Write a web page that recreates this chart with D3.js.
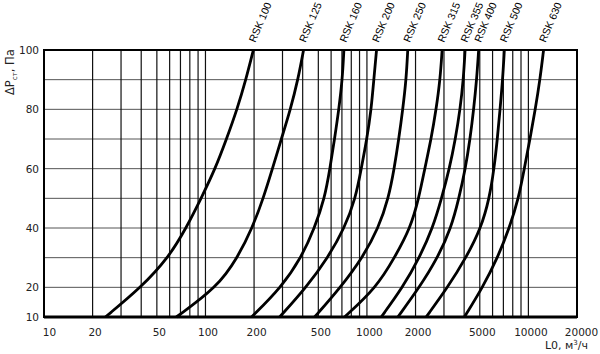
<!DOCTYPE html>
<html>
<head>
<meta charset="utf-8">
<script src="https://cdn.jsdelivr.net/npm/d3@7"></script>
<style>
  body { margin: 0; background: #fff; }
  svg { display: block; font-family: "DejaVu Sans", sans-serif; }
</style>
</head>
<body>
<div id="chart"></div>
<script>
// pressure levels (Pa) at which each curve was read
var pressures = [10, 20, 30, 40, 50, 60, 70, 80, 90, 100];

// air flow L0 (m3/h) for each model at the levels above
var rsk100 = [24, 40, 59, 76, 94, 115, 135, 157, 178, 198];
var rsk125 = [66, 118, 158, 195, 228, 260, 295, 336, 374, 405];
var rsk160 = [193, 295, 392, 474, 547, 590, 630, 670, 704, 720];
var rsk200 = [288, 421, 573, 727, 850, 922, 999, 1063, 1103, 1147];
var rsk250 = [474, 687, 939, 1179, 1360, 1475, 1575, 1667, 1750, 1790];
var rsk315 = [727, 1147, 1482, 1860, 2094, 2281, 2498, 2683, 2840, 2922];
var rsk355 = [1226, 1667, 2115, 2555, 2900, 3243, 3532, 3776, 3958, 4054];
var rsk400 = [1553, 2115, 2744, 3322, 3712, 4071, 4353, 4582, 4782, 4920];
var rsk500 = [2326, 3165, 4113, 5092, 5731, 6129, 6424, 6675, 6927, 7097];
var rsk630 = [4014, 5209, 6450, 7618, 8698, 9432, 10230, 11033, 11796, 12417];

var names = ["RSK 100", "RSK 125", "RSK 160", "RSK 200", "RSK 250",
             "RSK 315", "RSK 355", "RSK 400", "RSK 500", "RSK 630"];
var flows = [rsk100, rsk125, rsk160, rsk200, rsk250, rsk315, rsk355, rsk400, rsk500, rsk630];

var xTicks = [10, 20, 50, 100, 200, 500, 1000, 2000, 5000, 10000, 20000];
var yTicks = [10, 20, 40, 60, 80, 100];
var xGrid = [20, 30, 40, 50, 60, 70, 80, 90, 100,
             200, 300, 400, 500, 600, 700, 800, 900, 1000,
             2000, 3000, 4000, 5000, 6000, 7000, 8000, 9000, 10000];
var yGrid = [20, 30, 40, 50, 60, 70, 80, 90];

function draw() {
  var W = 600, H = 354;
  var margin = {top: 50, right: 23, bottom: 37, left: 44};

  var svg = d3.select("#chart").append("svg")
      .attr("width", W)
      .attr("height", H);

  var x = d3.scaleLog()
      .domain([10, 20000])
      .range([margin.left, W - margin.right]);

  var y = d3.scaleLinear()
      .domain([10, 100])
      .range([H - margin.bottom, margin.top]);

  // grid
  svg.append("g")
    .selectAll("line")
    .data(yGrid)
    .enter().append("line")
      .attr("x1", margin.left).attr("x2", W - margin.right)
      .attr("y1", d => y(d)).attr("y2", d => y(d))
      .attr("stroke", "#555")
      .attr("stroke-width", 1);

  svg.append("g")
    .selectAll("line")
    .data(xGrid)
    .enter().append("line")
      .attr("x1", d => x(d)).attr("x2", d => x(d))
      .attr("y1", margin.top).attr("y2", H - margin.bottom)
      .attr("stroke", "#111")
      .attr("stroke-width", 1.2);

  // curves
  var line = d3.line()
      .x(d => x(d[0]))
      .y(d => y(d[1]))
      .curve(d3.curveBasis);

  var series = flows.map(function(f, i) {
    var pts = f.map((v, j) => [v, pressures[j]]).reverse();
    return {name: names[i], pts: pts};
  });

  svg.append("g")
    .selectAll("path")
    .data(series)
    .enter().append("path")
      .attr("d", d => line(d.pts))
      .attr("fill", "none")
      .attr("stroke", "#000")
      .attr("stroke-width", 2.8)
      .attr("stroke-linejoin", "round");

  // curve labels at the top ends
  svg.append("g")
    .selectAll("text")
    .data(series)
    .enter().append("text")
      .attr("transform", d => "translate(" + (x(d.pts[0][0]) + 2) + "," + (margin.top - 7) + ") rotate(-67)")
      .attr("font-size", 10.5)
      .attr("font-family", "Liberation Sans")
      .attr("fill", "#000")
      .text(d => d.name);

  // frame
  svg.append("rect")
    .attr("x", margin.left).attr("y", margin.top)
    .attr("width", W - margin.left - margin.right)
    .attr("height", H - margin.top - margin.bottom)
    .attr("fill", "none")
    .attr("stroke", "#000")
    .attr("stroke-width", 2);

  svg.append("line")
    .attr("x1", margin.left).attr("x2", W - margin.right)
    .attr("y1", H - margin.bottom).attr("y2", H - margin.bottom)
    .attr("stroke", "#000")
    .attr("stroke-width", 3);

  // axes
  var xAxis = svg.append("g")
    .attr("transform", `translate(0,${H - margin.bottom})`)
    .call(d3.axisBottom(x).tickValues(xTicks).tickFormat(d3.format("d")).tickSize(0).tickPadding(12));
  xAxis.select(".domain").remove();
  xAxis.selectAll("text")
    .attr("font-size", 10.5)
    .attr("font-family", "DejaVu Sans")
    .attr("fill", "#222")
    .attr("dx", d => d == 10 ? 5 : (d == 20000 ? 4 : 2));

  var yAxis = svg.append("g")
    .attr("transform", `translate(${margin.left},0)`)
    .call(d3.axisLeft(y).tickValues(yTicks).tickSize(0).tickPadding(5));
  yAxis.select(".domain").remove();
  yAxis.selectAll("text")
    .attr("font-size", 10.5)
    .attr("font-family", "DejaVu Sans")
    .attr("fill", "#222");

  // axis titles
  var yt = svg.append("text")
    .attr("transform", "translate(14,95) rotate(-90)")
    .attr("font-size", 11.5)
    .attr("fill", "#222");
  yt.append("tspan").text("ΔP");
  yt.append("tspan").attr("font-size", 7).attr("dy", 3).text("ст");
  yt.append("tspan").attr("font-size", 11.5).attr("dy", -3).text(", Па");

  var xt = svg.append("text")
    .attr("x", 588)
    .attr("y", 349)
    .attr("text-anchor", "end")
    .attr("font-size", 11)
    .attr("fill", "#222");
  xt.append("tspan").text("L0, м");
  xt.append("tspan").attr("font-size", 7).attr("dy", -4).text("3");
  xt.append("tspan").attr("font-size", 11).attr("dy", 4).text("/ч");
}

window.onload = draw;
</script>
</body>
</html>
